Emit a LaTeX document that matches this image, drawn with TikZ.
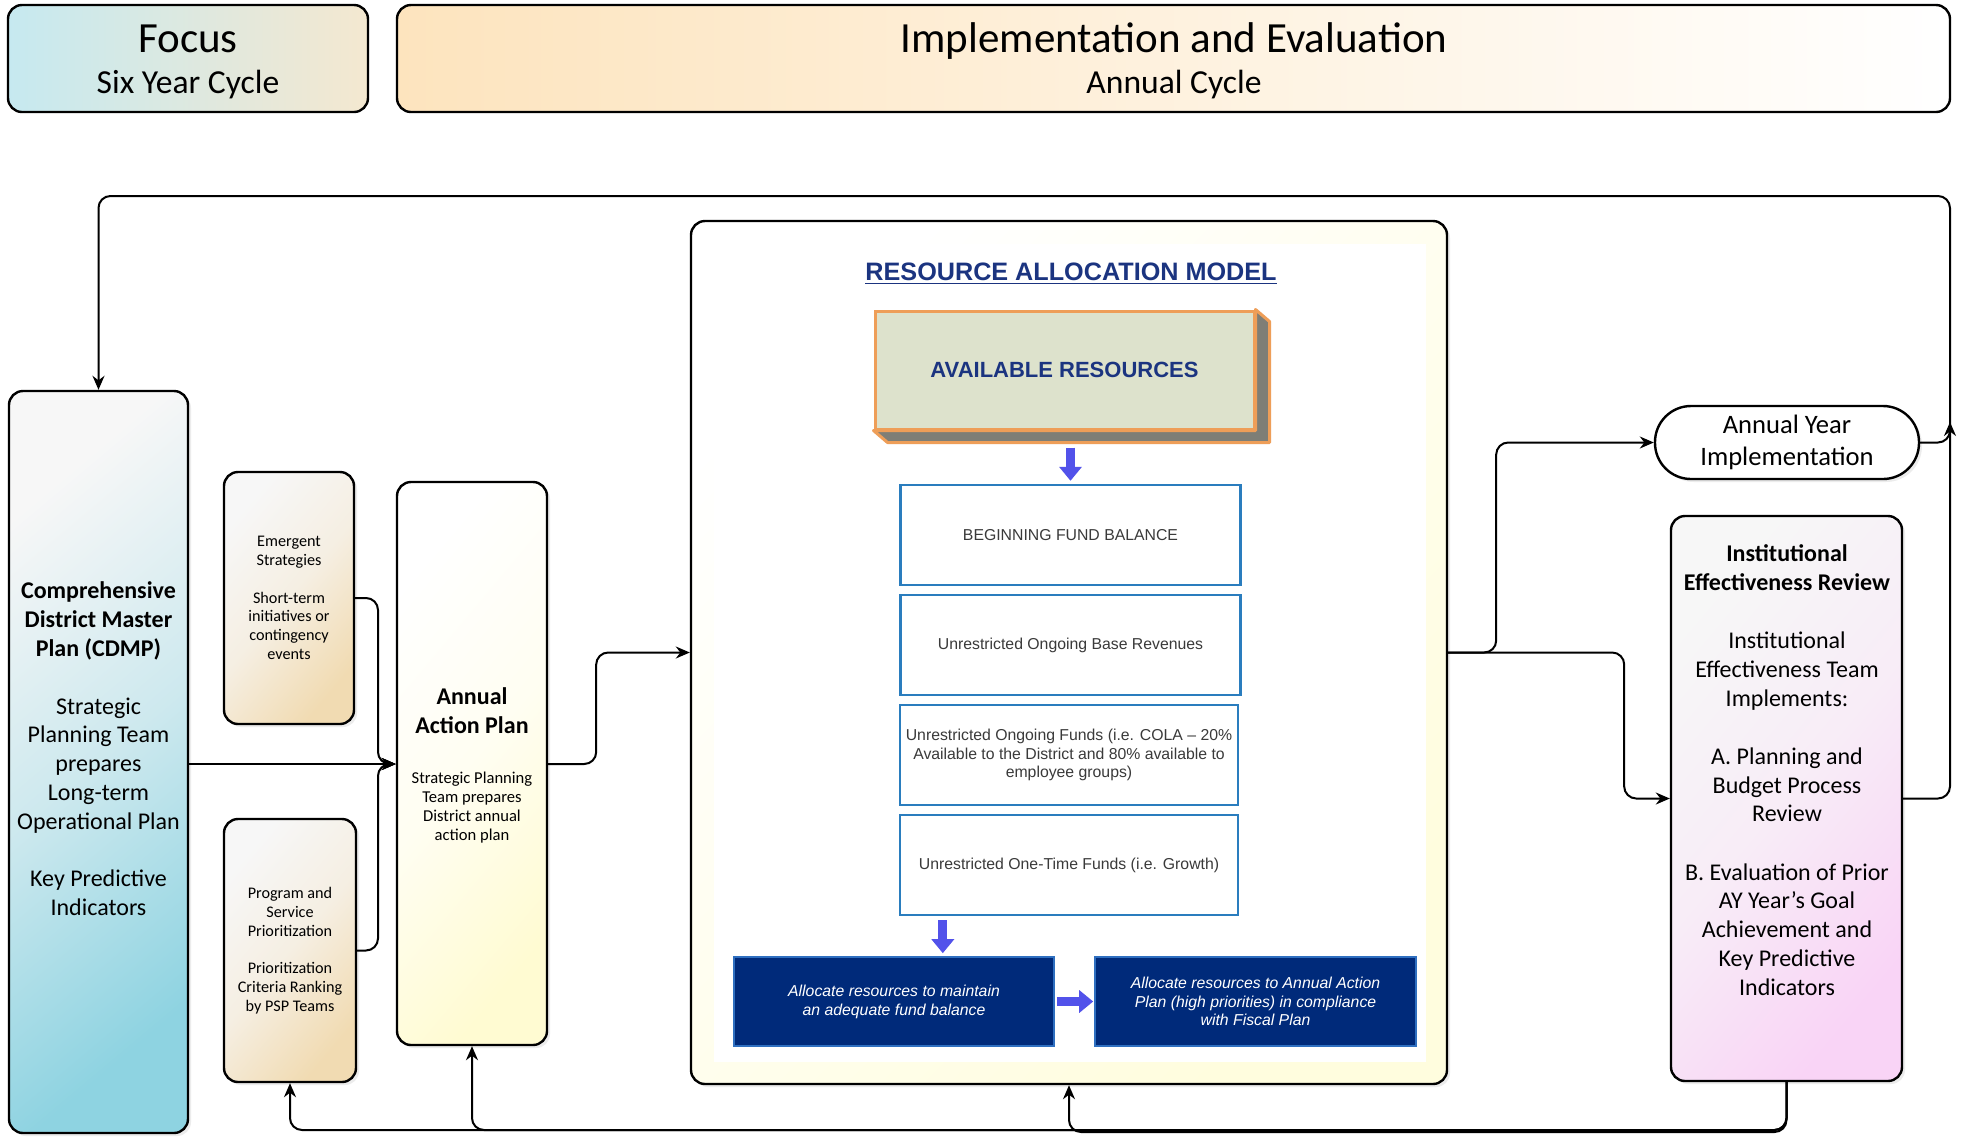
\documentclass[tikz,border=0pt]{standalone}
\usepackage{fontspec}
\setmainfont{Carlito}
\newfontfamily\arialf{Liberation Sans}
\usetikzlibrary{arrows.meta,calc,shadows}
\definecolor{focusL}{HTML}{C6E9F0}
\definecolor{focusR}{HTML}{F4E8D0}
\definecolor{implL}{HTML}{FDE4BE}
\definecolor{cdmpC}{HTML}{8ED3E1}
\definecolor{beigeC}{HTML}{F1DBB2}
\definecolor{yelC}{HTML}{FFFBD2}
\definecolor{ramC}{HTML}{FFFDDE}
\definecolor{pinkC}{HTML}{F9D4F6}
\definecolor{titleB}{HTML}{1B3480}
\definecolor{availF}{HTML}{DDE2CC}
\definecolor{availO}{HTML}{EE9E58}
\definecolor{availD}{HTML}{7E7E76}
\definecolor{fundB}{HTML}{2A7DBE}
\definecolor{fundT}{HTML}{3A3A3A}
\definecolor{navy}{HTML}{002A7A}
\definecolor{navyB}{HTML}{2E6FC0}
\definecolor{fatblue}{HTML}{5252EA}
\definecolor{offW}{HTML}{F7F7F7}
\begin{document}
\begin{tikzpicture}[x=0.5pt,y=-0.5pt,
  box/.style={draw=black,line width=1.2pt,rounded corners=7pt,inner sep=0pt,align=center},
  soft/.style={drop shadow={opacity=0.15,shadow xshift=1.5pt,shadow yshift=-1.5pt}},
  grad/.style={top color=offW,bottom color=#1,middle color=#1!30!offW,shading angle=50},
  conn/.style={draw=black,line width=1pt,rounded corners=6pt,-{Stealth[length=7pt,width=6pt]}},
  txt/.style={align=center,inner sep=0pt},
  big/.style={font=\fontsize{12}{14.4}\selectfont},
  small/.style={font=\fontsize{8.1}{9.4}\selectfont},
  fund/.style={draw=fundB,line width=1.2pt,fill=white,minimum width=170pt,minimum height=50pt,inner sep=0pt,align=center,text=fundT,font=\arialf\fontsize{7.9}{9.4}\selectfont},
  navybox/.style={draw=navyB,line width=0.8pt,fill=navy,minimum width=160pt,minimum height=44.5pt,inner sep=0pt,align=center,text=white,font=\arialf\itshape\fontsize{7.9}{9.4}\selectfont},
  fat/.style={draw=fatblue,line width=4.5pt,-{Triangle[length=7pt,width=11pt]}}
]
\fill[white] (0,0) rectangle (1961,1137);
\useasboundingbox (0,0) rectangle (1961,1137);

% header boxes
\node[box,minimum width=180pt,minimum height=53.5pt,left color=focusL,right color=focusR] (focus) at (188,58.5) {};
\node[txt,font=\fontsize{21.5}{24}\selectfont] (focust) at (188,39) {Focus};
\node[txt,font=\fontsize{16.8}{20}\selectfont] (focuss) at (188,85) {Six Year Cycle};
\node[box,minimum width=776.5pt,minimum height=53.5pt,left color=implL,right color=white] (impl) at (1173.5,58.5) {};
\node[txt,font=\fontsize{21.5}{24}\selectfont] (implt) at (1174,41) {Implementation and Evaluation};
\node[txt,font=\fontsize{16.8}{20}\selectfont] (impls) at (1174,85) {Annual Cycle};

% CDMP
\node[box,soft,minimum width=89.5pt,minimum height=371pt,top color=offW,bottom color=cdmpC,middle color=cdmpC!40!offW,shading angle=40] (cdmp) at (98.5,762) {};
\node[txt,big] (cdmpt) at (98.5,749) {\textbf{Comprehensive}\\\textbf{District Master}\\\textbf{Plan (CDMP)}\\[14.4pt]Strategic\\Planning Team\\prepares\\Long-term\\Operational Plan\\[14.4pt]Key Predictive\\Indicators};

% small input boxes
\node[box,soft,small,minimum width=65pt,minimum height=126pt,grad=beigeC] (es) at (289,598) {Emergent\\Strategies\\[9.4pt]Short-term\\initiatives or\\contingency\\events};
\node[box,soft,small,minimum width=66pt,minimum height=131.5pt,grad=beigeC] (psp) at (290,950.5) {Program and\\Service\\Prioritization\\[9.4pt]Prioritization\\Criteria Ranking\\by PSP Teams};

% annual action plan
\node[box,soft,minimum width=75pt,minimum height=281.5pt,top color=white,bottom color=yelC,middle color=yelC!30!white,shading angle=50] (aap) at (472,763.5) {};
\node[txt,big] (aapt) at (472,711) {\textbf{Annual}\\\textbf{Action Plan}};
\node[txt,font=\fontsize{8.3}{9.4}\selectfont] (aapb) at (472,807.5) {Strategic Planning\\Team prepares\\District annual\\action plan};

% resource allocation model
\node[box,soft,minimum width=378pt,minimum height=431.5pt,top color=white,bottom color=ramC,shading angle=45] (ram) at (1069,652.5) {};
\fill[white] (714,244) rectangle (1426,1062);
\node[inner sep=0pt,text=titleB,font=\arialf\bfseries\fontsize{12.6}{14}\selectfont] (ramt) at (1071,274) {\underline{RESOURCE ALLOCATION MODEL}};
\node[draw=availO,line width=1.5pt,fill=availF,minimum width=189.5pt,minimum height=59pt,inner sep=0pt,text=titleB,font=\arialf\bfseries\fontsize{11}{13}\selectfont] (av) at (1064.5,370) {AVAILABLE RESOURCES};
\draw[draw=availO,line width=1.5pt,fill=availD,line join=round] (av.north east) -- ++(14,12) -- ($(av.south east)+(14,12)$) -- ($(av.south west)+(14,12)$) -- (av.south west) -- (av.south east) -- cycle;
\node[fund] (b1) at (1070.5,535) {BEGINNING FUND BALANCE};
\node[fund] (b2) at (1070.5,645) {Unrestricted Ongoing Base Revenues};
\node[fund,minimum width=169pt] (b3) at (1069,755) {Unrestricted Ongoing Funds (i.e. COLA – 20\%\\Available to the District and 80\% available to\\employee groups)};
\node[fund,minimum width=169pt] (b4) at (1069,865) {Unrestricted One-Time Funds (i.e. Growth)};
\node[navybox] (dl) at (894,1001.5) {Allocate resources to maintain\\an adequate fund balance};
\node[navybox,minimum width=160.5pt] (dr) at (1255.5,1001.5) {Allocate resources to Annual Action\\Plan (high priorities) in compliance\\with Fiscal Plan};
\draw[fat,shorten <=8.5pt,shorten >=1.5pt] (av.south -| b1.north) -- (b1.north);
\coordinate (a2) at ([xshift=22pt]b4.south west);
\draw[fat,shorten <=2pt,shorten >=1.5pt] (a2) -- (a2 |- dl.north);
\draw[fat,shorten <=1pt,shorten >=0.5pt] (dl.east) -- (dr.west);

% right side
\node[box,soft,rounded corners=18pt,minimum width=132pt,minimum height=36.5pt,fill=white,font=\fontsize{13.3}{16.2}\selectfont] (ayi) at (1787,442.5) {Annual Year\\Implementation};
\node[box,soft,minimum width=115.5pt,minimum height=282.5pt,grad=pinkC] (ier) at (1786.5,798.5) {};
\node[txt,big] (iert) at (1787,770) {\textbf{Institutional}\\\textbf{Effectiveness Review}\\[14.7pt]Institutional\\Effectiveness Team\\Implements:\\[14.7pt]A. Planning and\\Budget Process\\Review\\[14.7pt]B. Evaluation of Prior\\AY Year’s Goal\\Achievement and\\Key Predictive\\Indicators};

% connectors
\coordinate (mj) at (378,764);
\coordinate (tr) at (1950,196);
\coordinate (aytip) at (1950,422);
\coordinate (bot) at (0,1130);
\draw[conn] (cdmp.east |- mj) -- (aap.west |- mj);
\draw[conn] (es.east) -| (mj) -- (aap.west |- mj);
\draw[conn] (psp.east) -| (mj) -- (aap.west |- mj);
\draw[conn] (aap.east |- mj) -- ++(48,0) |- (ram.west);
\draw[conn] (ram.east) -- ++(48,0) |- (ayi.west);
\draw[conn] (ram.east) -- ++(176,0) |- (ier.west);
\draw[conn] (ier.east) -| (tr) -| (cdmp.north);
\draw[conn] (ayi.east) -| (aytip);
\draw[conn] (ier.south) |- (psp.south |- bot) -- (psp.south);
\draw[conn] (ier.south) |- (aap.south |- bot) -- (aap.south);
\draw[conn] (ier.south) |- ($(ram.south |- bot)+(0,2)$) -- (ram.south);
\end{tikzpicture}
\end{document}
